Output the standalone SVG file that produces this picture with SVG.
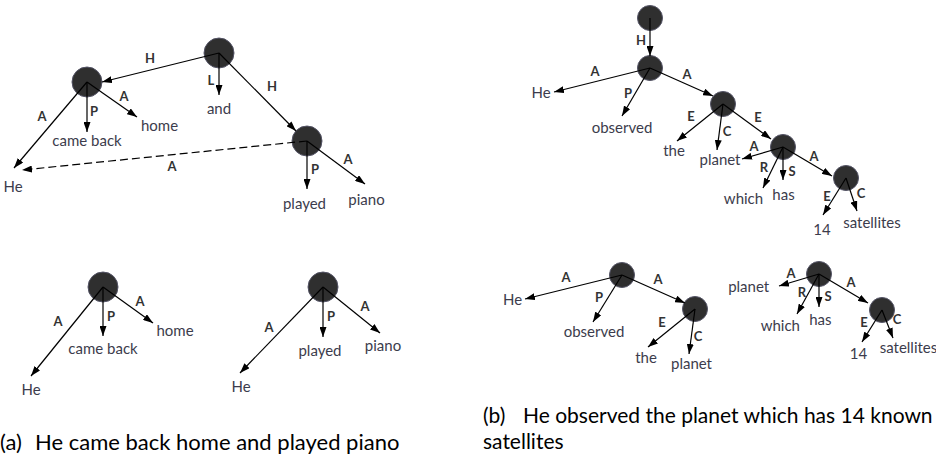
<svg xmlns="http://www.w3.org/2000/svg" width="936" height="463" viewBox="0 0 936 463">
<defs>
<marker id="arr" viewBox="0 0 10 7" refX="10" refY="3.5" markerWidth="10" markerHeight="7" markerUnits="userSpaceOnUse" orient="auto"><path d="M0,0 L10,3.5 L0,7 z" fill="#000"/></marker>
</defs>
<style>
.n{fill:#2f2f2f;stroke:#545466;stroke-width:1}
.e{stroke:#000;stroke-width:1.2;fill:none;marker-end:url(#arr)}
.d{stroke-dasharray:8 4}
.l{font-family:Lato,"Liberation Sans",sans-serif;font-weight:bold;font-size:13px;fill:#333;text-anchor:middle}
.w{font-family:Lato,"Liberation Sans",sans-serif;font-size:15px;fill:#3c3c4c;text-anchor:middle}
.cap{font-family:Lato,"Liberation Sans",sans-serif;font-size:21px;fill:#000}
.capa{font-size:22px}
</style>
<rect width="936" height="463" fill="#fff"/>

<!-- Panel a, top tree -->
<g id="a1-root"><circle class="n" cx="219" cy="53" r="15"/></g>
<g id="a1-left"><circle class="n" cx="87" cy="82" r="15"/></g>
<g id="a1-right"><circle class="n" cx="307" cy="141" r="15"/></g>
<g id="a1-he"><text class="w" x="13" y="192">He</text></g>
<g id="a1-came"><text class="w" x="87" y="146">came back</text></g>
<g id="a1-home"><text class="w" x="159.5" y="130.5">home</text></g>
<g id="a1-and"><text class="w" x="219" y="114">and</text></g>
<g id="a1-played"><text class="w" x="304.5" y="209">played</text></g>
<g id="a1-piano"><text class="w" x="366.5" y="204.5">piano</text></g>

<!-- Panel a, bottom trees -->
<g id="a2-root"><circle class="n" cx="103" cy="287" r="15"/></g>
<g id="a2-he"><text class="w" x="31" y="395">He</text></g>
<g id="a2-came"><text class="w" x="103" y="353.5">came back</text></g>
<g id="a2-home"><text class="w" x="175" y="336">home</text></g>
<g id="a3-root"><circle class="n" cx="323" cy="287" r="15"/></g>
<g id="a3-he"><text class="w" x="241" y="392">He</text></g>
<g id="a3-played"><text class="w" x="320" y="356">played</text></g>
<g id="a3-piano"><text class="w" x="383" y="351">piano</text></g>

<!-- Panel b, top tree -->
<g id="b1-r0"><circle class="n" cx="650" cy="18" r="12.5"/></g>
<g id="b1-r1"><circle class="n" cx="650" cy="68" r="12.5"/></g>
<g id="b1-r2"><circle class="n" cx="723" cy="104" r="12.5"/></g>
<g id="b1-r3"><circle class="n" cx="783" cy="147" r="12.5"/></g>
<g id="b1-r4"><circle class="n" cx="846" cy="178" r="12.5"/></g>
<g id="b1-he"><text class="w" x="541" y="98">He</text></g>
<g id="b1-observed"><text class="w" x="622" y="132.5">observed</text></g>
<g id="b1-the"><text class="w" x="674" y="156">the</text></g>
<g id="b1-planet"><text class="w" x="720" y="164.5">planet</text></g>
<g id="b1-which"><text class="w" x="743.5" y="204">which</text></g>
<g id="b1-has"><text class="w" x="783.5" y="199.5">has</text></g>
<g id="b1-14"><text class="w" x="822" y="234.5">14</text></g>
<g id="b1-satellites"><text class="w" x="872" y="228">satellites</text></g>

<!-- Panel b, bottom trees -->
<g id="b2-a"><circle class="n" cx="622" cy="275" r="12.5"/></g>
<g id="b2-b"><circle class="n" cx="695" cy="309" r="12.5"/></g>
<g id="b2-he"><text class="w" x="512.5" y="304.5">He</text></g>
<g id="b2-observed"><text class="w" x="594" y="337">observed</text></g>
<g id="b2-the"><text class="w" x="646" y="362.5">the</text></g>
<g id="b2-planet"><text class="w" x="691.5" y="368.5">planet</text></g>
<g id="b3-c"><circle class="n" cx="819" cy="274" r="12.5"/></g>
<g id="b3-d"><circle class="n" cx="882" cy="310" r="12.5"/></g>
<g id="b3-planet"><text class="w" x="748.7" y="292">planet</text></g>
<g id="b3-which"><text class="w" x="780.3" y="330.5">which</text></g>
<g id="b3-has"><text class="w" x="820.3" y="325">has</text></g>
<g id="b3-14"><text class="w" x="858.5" y="359">14</text></g>
<g id="b3-satellites"><text class="w" x="908.5" y="352.7">satellites</text></g>

<!-- Connectors -->
<g id="connectors">
<line class="e" x1="219" y1="53" x2="102" y2="82"/><text class="l" x="150" y="63">H</text>
<line class="e" x1="219" y1="53" x2="219" y2="95"/><text class="l" x="211" y="85">L</text>
<line class="e" x1="219" y1="53" x2="296" y2="131"/><text class="l" x="272" y="91">H</text>
<line class="e" x1="87" y1="82" x2="14" y2="168"/><text class="l" x="42" y="121">A</text>
<line class="e" x1="87" y1="82" x2="87" y2="132"/><text class="l" x="94" y="116">P</text>
<line class="e" x1="87" y1="82" x2="137" y2="117"/><text class="l" x="124" y="101">A</text>
<line class="e d" x1="307" y1="141" x2="22" y2="170"/><text class="l" x="172" y="171">A</text>
<line class="e" x1="307" y1="141" x2="307" y2="189"/><text class="l" x="315" y="174">P</text>
<line class="e" x1="307" y1="141" x2="365" y2="184"/><text class="l" x="348" y="164">A</text>

<line class="e" x1="103" y1="287" x2="31" y2="376"/><text class="l" x="58" y="326">A</text>
<line class="e" x1="103" y1="287" x2="103" y2="336"/><text class="l" x="111" y="321">P</text>
<line class="e" x1="103" y1="287" x2="153" y2="323"/><text class="l" x="140" y="306">A</text>
<line class="e" x1="323" y1="287" x2="240" y2="373"/><text class="l" x="269" y="332">A</text>
<line class="e" x1="323" y1="287" x2="323" y2="337"/><text class="l" x="331" y="321">P</text>
<line class="e" x1="323" y1="287" x2="380" y2="333"/><text class="l" x="365" y="311">A</text>

<line class="e" x1="650" y1="18" x2="650" y2="56"/><text class="l" x="641" y="45">H</text>
<line class="e" x1="650" y1="68" x2="554" y2="92"/><text class="l" x="595" y="76">A</text>
<line class="e" x1="650" y1="68" x2="622" y2="116"/><text class="l" x="628" y="98">P</text>
<line class="e" x1="650" y1="68" x2="713" y2="96"/><text class="l" x="687" y="79">A</text>
<line class="e" x1="723" y1="104" x2="677" y2="141"/><text class="l" x="691" y="121">E</text>
<line class="e" x1="723" y1="104" x2="717" y2="150"/><text class="l" x="727" y="136">C</text>
<line class="e" x1="723" y1="104" x2="771" y2="139"/><text class="l" x="758" y="122">E</text>
<line class="e" x1="783" y1="147" x2="742" y2="159"/><text class="l" x="754" y="151">A</text>
<line class="e" x1="783" y1="147" x2="763" y2="188"/><text class="l" x="764" y="172">R</text>
<line class="e" x1="783" y1="147" x2="783" y2="180"/><text class="l" x="792" y="176">S</text>
<line class="e" x1="783" y1="147" x2="832" y2="176"/><text class="l" x="814" y="161">A</text>
<line class="e" x1="846" y1="178" x2="823" y2="215"/><text class="l" x="827" y="201">E</text>
<line class="e" x1="846" y1="178" x2="857" y2="211"/><text class="l" x="861" y="198">C</text>

<line class="e" x1="622" y1="275" x2="525" y2="299"/><text class="l" x="566" y="282">A</text>
<line class="e" x1="622" y1="275" x2="593" y2="322"/><text class="l" x="599" y="302">P</text>
<line class="e" x1="622" y1="275" x2="685" y2="303"/><text class="l" x="658" y="284">A</text>
<line class="e" x1="695" y1="309" x2="648" y2="347"/><text class="l" x="662" y="327">E</text>
<line class="e" x1="695" y1="309" x2="689" y2="354"/><text class="l" x="698" y="341">C</text>

<line class="e" x1="819" y1="274" x2="779" y2="286"/><text class="l" x="791" y="278">A</text>
<line class="e" x1="819" y1="274" x2="797" y2="314"/><text class="l" x="802" y="297">R</text>
<line class="e" x1="819" y1="274" x2="819" y2="307"/><text class="l" x="828" y="301">S</text>
<line class="e" x1="819" y1="274" x2="868" y2="303"/><text class="l" x="851" y="287">A</text>
<line class="e" x1="882" y1="310" x2="862" y2="342"/><text class="l" x="864" y="327">E</text>
<line class="e" x1="882" y1="310" x2="893" y2="338"/><text class="l" x="897" y="324">C</text>
</g>

<!-- Captions -->
<g id="captions">
<text class="cap capa" x="0" y="450">(a)</text>
<text class="cap capa" x="35" y="450">He came back home and played piano</text>
<text class="cap" x="483" y="423">(b)</text>
<text class="cap" x="523" y="423">He observed the planet which has 14 known</text>
<text class="cap" x="483" y="449">satellites</text>
</g>
</svg>
